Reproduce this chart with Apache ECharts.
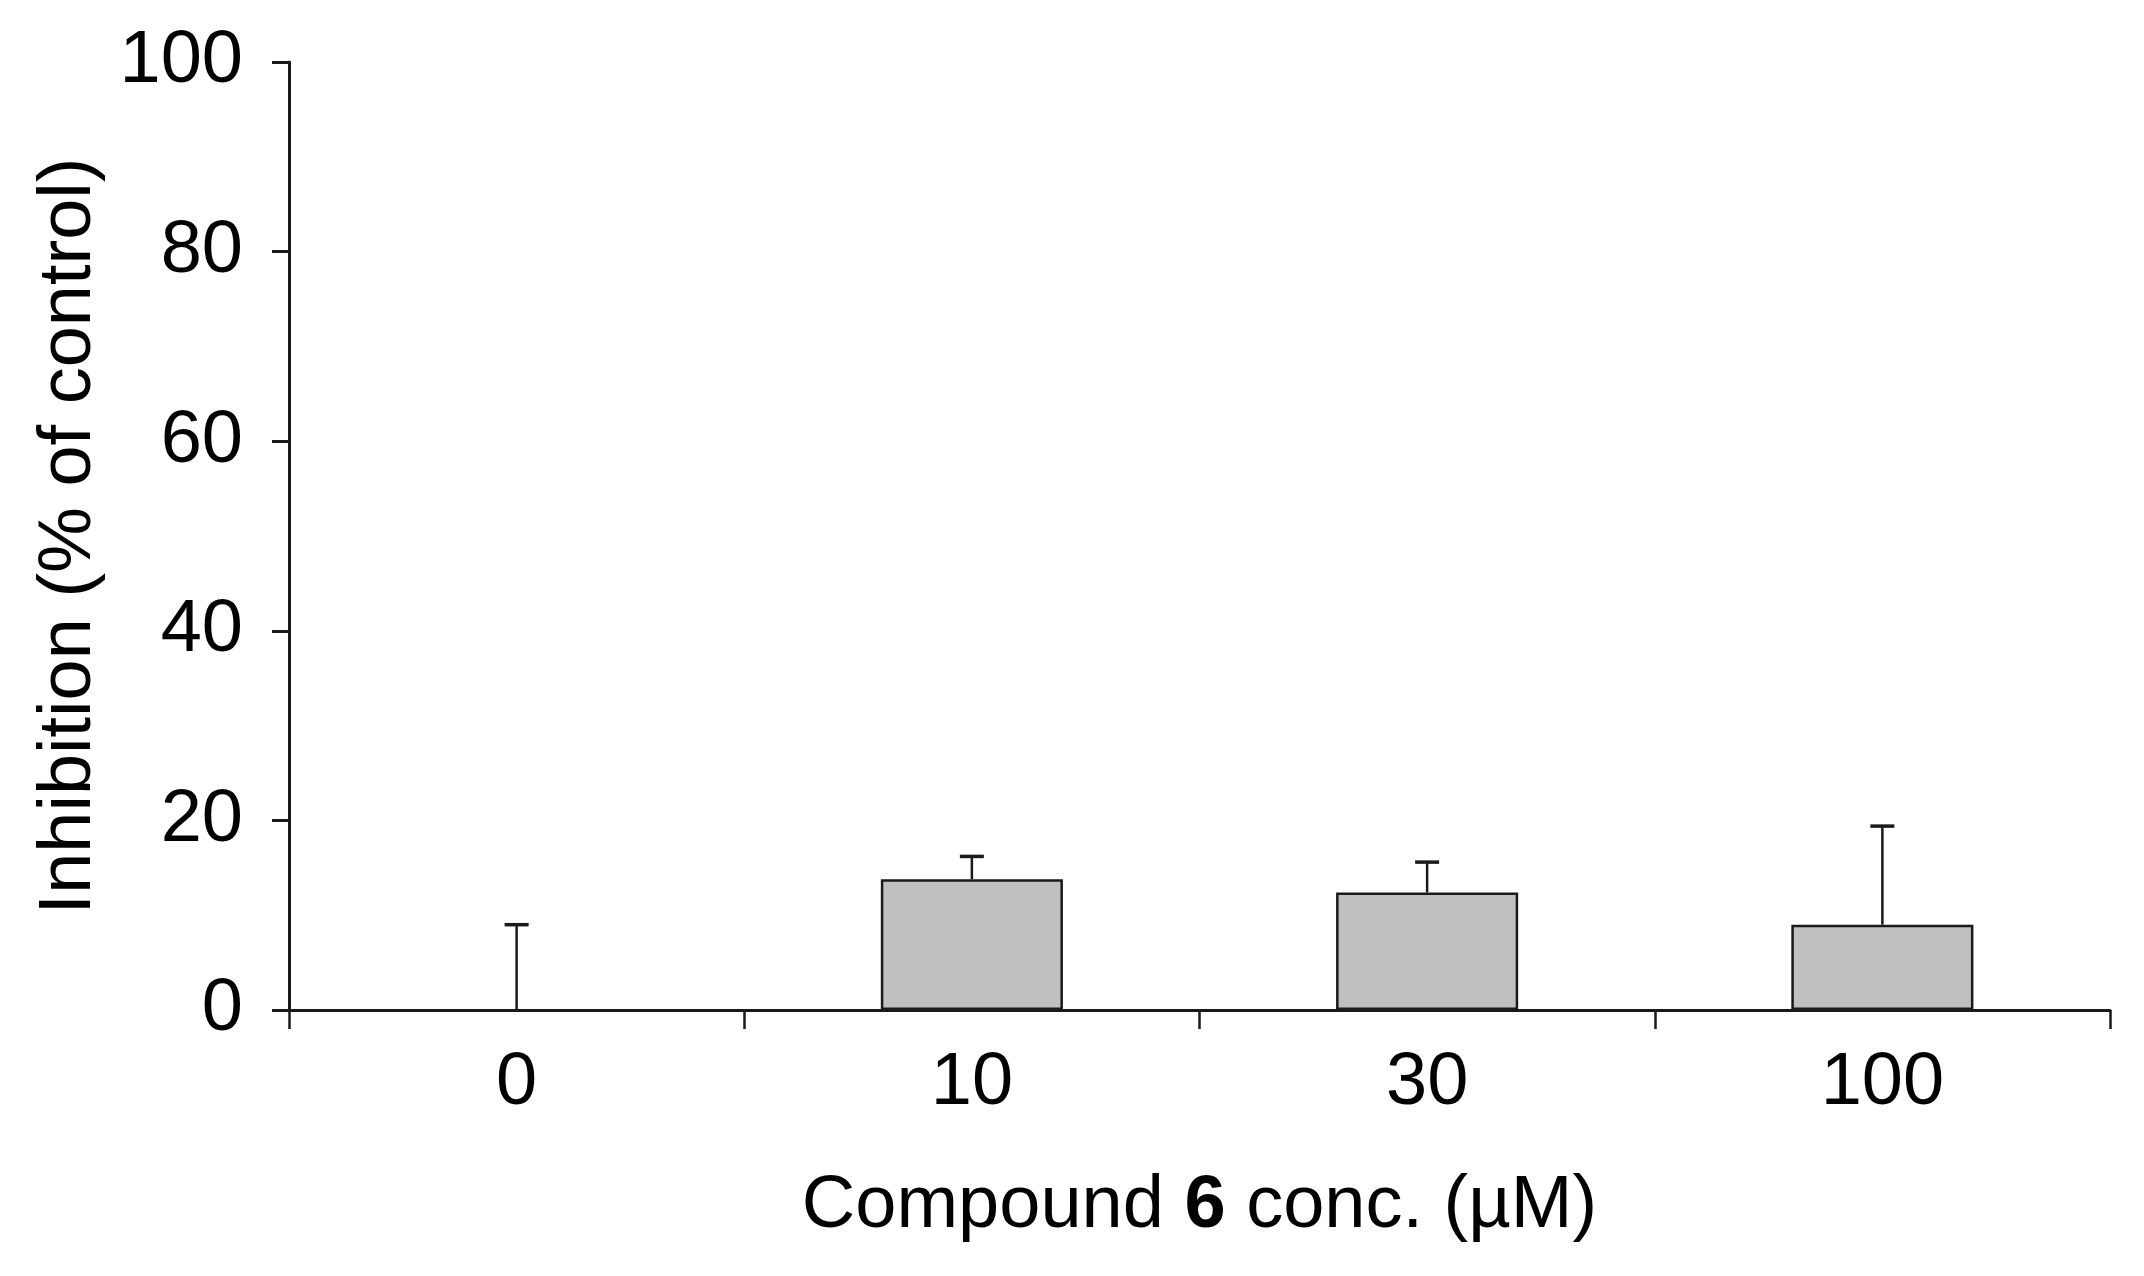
<!DOCTYPE html>
<html>
<head>
<meta charset="utf-8">
<script src="https://cdn.jsdelivr.net/npm/echarts@6/dist/echarts.min.js"></script>
<style>
html,body{margin:0;padding:0;background:#fff;}
#chart{width:2144px;height:1276px;}
</style>
</head>
<body>
<div id="chart"></div>
<script>
var categories = ['0', '10', '30', '100'];
var meanValues = [0, 13.8, 12.4, 9.0];
var errorValues = [9.0, 2.4, 3.2, 10.4];
var yTicks = [0, 20, 40, 60, 80, 100];

var FONT = '"Liberation Sans", Arial, sans-serif';
var INK = '#1a1a1a';
var FS = 74;

var barData = meanValues.map(function (v) {
  return v === 0 ? { value: v, itemStyle: { borderWidth: 0 } } : v;
});
var errData = categories.map(function (c, i) {
  return [i, meanValues[i] + errorValues[i], meanValues[i]];
});

var chart = echarts.init(document.getElementById('chart'));
chart.setOption({
  animation: false,
  backgroundColor: '#ffffff',
  grid: { left: 289, right: 34, top: 62, bottom: 266, containLabel: false },
  xAxis: {
    type: 'category',
    data: categories,
    boundaryGap: true,
    axisLine: { lineStyle: { color: INK, width: 3 } },
    axisTick: { show: true, length: 19, alignWithLabel: false, lineStyle: { color: INK, width: 2.5 } },
    axisLabel: { margin: 37, fontSize: FS, color: '#000', fontFamily: FONT },
    name: '{n|Compound }{b|6}{n| conc. (µM)}',
    nameLocation: 'middle',
    nameGap: 160,
    nameTextStyle: {
      rich: {
        n: { fontSize: FS, color: '#000', fontFamily: FONT },
        b: { fontSize: FS, color: '#000', fontFamily: FONT, fontWeight: 'bold' }
      }
    },
    splitLine: { show: false }
  },
  yAxis: {
    type: 'value',
    min: yTicks[0],
    max: yTicks[yTicks.length - 1],
    interval: yTicks[1] - yTicks[0],
    axisLine: { show: true, lineStyle: { color: INK, width: 3 } },
    axisTick: { show: true, length: 17, lineStyle: { color: INK, width: 3 } },
    axisLabel: { margin: 46, fontSize: FS, color: '#000', fontFamily: FONT },
    splitLine: { show: false },
    name: 'Inhibition (% of control)',
    nameLocation: 'middle',
    nameGap: 182,
    nameTextStyle: { fontSize: FS, color: '#000', fontFamily: FONT }
  },
  series: [
    {
      type: 'bar',
      data: barData,
      barWidth: '40%',
      itemStyle: { color: '#c0c0c0', borderColor: INK, borderWidth: 2.5 },
      z: 2
    },
    {
      type: 'custom',
      data: errData,
      encode: { x: 0, y: [1, 2] },
      z: 5,
      renderItem: function (params, api) {
        var x = api.value(0);
        var top = api.coord([x, api.value(1)]);
        var base = api.coord([x, api.value(2)]);
        var half = 12;
        return {
          type: 'group',
          children: [
            { type: 'line', shape: { x1: base[0], y1: base[1], x2: top[0], y2: top[1] }, style: { stroke: INK, lineWidth: 2.5 } },
            { type: 'line', shape: { x1: top[0] - half, y1: top[1], x2: top[0] + half, y2: top[1] }, style: { stroke: INK, lineWidth: 3.5 } }
          ]
        };
      }
    }
  ]
});
</script>
</body>
</html>
